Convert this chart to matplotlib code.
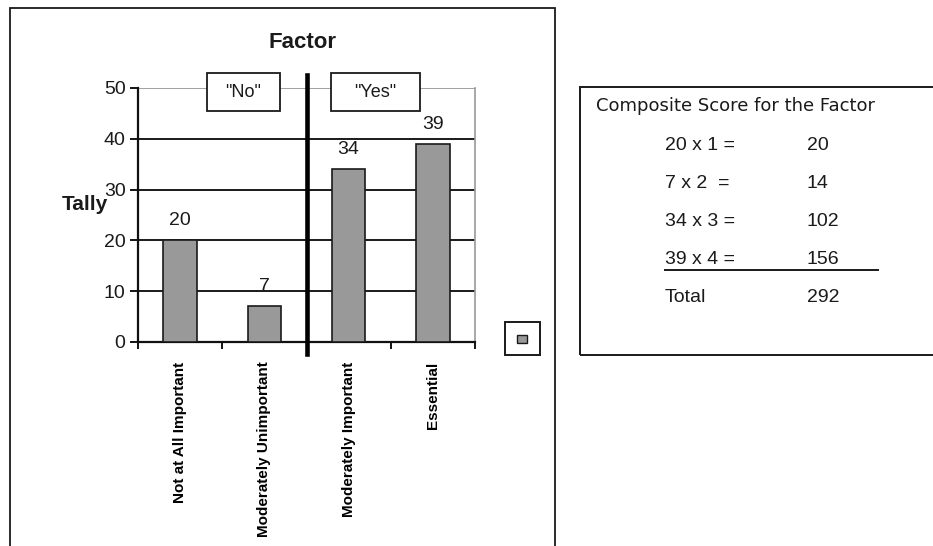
import matplotlib
matplotlib.use("Agg")
import matplotlib.pyplot as plt
from matplotlib.patches import Rectangle
from matplotlib.lines import Line2D

# chart data
categories = ["Not at All Important", "Moderately Unimportant",
              "Moderately Important", "Essential"]
tally = [20, 7, 34, 39]
weights = [1, 2, 3, 4]
scores = [20, 14, 102, 156]
total = 292
yticks = [0, 10, 20, 30, 40, 50]

plt.rcParams['font.family'] = ['Liberation Sans', 'DejaVu Sans']
ink = "#1a1a1a"

fig = plt.figure(figsize=(9.33, 5.46), dpi=100)
ax = fig.add_axes([138/933, 204/546, 337/933, 254/546])

x = list(range(len(categories)))
ax.bar(x, tally, width=0.4, color="#999999", edgecolor=ink, linewidth=1.2, zorder=3)
for xi, v in zip(x, tally):
  ax.text(xi, v + 2.2, str(v), ha='center', va='bottom', fontsize=14, color=ink)

ax.set_xlim(-0.5, 3.5)
ax.set_ylim(0, 50)
ax.set_yticks(yticks)
ax.set_yticklabels([str(t) for t in yticks], fontsize=14, color=ink)
ax.grid(axis='y', color=ink, linewidth=1.4, zorder=1)
ax.get_ygridlines()[-1].set_color("#888888")
ax.get_ygridlines()[-1].set_linewidth(1.1)
ax.set_axisbelow(True)

# category ticks at the boundaries, labels in the middle
ax.set_xticks([-0.5, 0.5, 1.5, 2.5, 3.5], minor=True)
ax.set_xticks(x)
ax.set_xticklabels(categories, rotation=90, va='top', ha='center',
                   fontsize=11, fontweight='bold')
ax.tick_params(axis='x', which='major', length=0, pad=14)
ax.tick_params(axis='x', which='minor', length=5, width=1.3, direction='out')
ax.tick_params(axis='y', length=6, width=1.3, direction='out', pad=3)

for s in ['left', 'bottom']:
  ax.spines[s].set_color("#111111")
  ax.spines[s].set_linewidth(1.6)
ax.spines['top'].set_visible(False)
ax.spines['right'].set_color("#999999")
ax.spines['right'].set_linewidth(1.2)

# divider between "No" and "Yes"
ax.plot([1.5, 1.5], [-2.4, 52.6], color="black", linewidth=3.3, clip_on=False, zorder=5)

for (x0, x1, txt) in [(0.319, 1.185, '"No"'), (1.79, 2.85, '"Yes"')]:
  ax.add_patch(Rectangle((x0, 45.4), x1 - x0, 7.6, facecolor="white", edgecolor=ink,
                         linewidth=1.3, clip_on=False, zorder=6))
  ax.text((x0 + x1) / 2, 49.2, txt, ha='center', va='center', fontsize=13, color=ink, zorder=7)

fig.text(303/933, 1 - 43/546, "Factor", fontsize=16, fontweight='bold', ha='center', va='center', color=ink)
fig.text(62/933, 1 - 204/546, "Tally", fontsize=15, fontweight='bold', ha='left', va='center', color=ink)

# outer chart frame
fig.add_artist(Rectangle((10/933, -0.02), 545/933, 1.02 - 8/546, transform=fig.transFigure,
                         fill=False, edgecolor=ink, linewidth=1.3))

# legend box (no label)
fig.add_artist(Rectangle((505/933, 1 - 355/546), 35/933, 33/546, transform=fig.transFigure,
                         facecolor="white", edgecolor=ink, linewidth=1.4))
fig.add_artist(Rectangle((517/933, 1 - 343/546), 10/933, 8/546, transform=fig.transFigure,
                         facecolor="#999999", edgecolor=ink, linewidth=1.0))

# composite score box
fig.add_artist(Rectangle((580/933, 1 - 355/546), 360/933, 268/546, transform=fig.transFigure,
                         fill=False, edgecolor=ink, linewidth=1.4))
fig.text(596/933, 1 - 106/546, "Composite Score for the Factor", fontsize=13,
         family='DejaVu Sans', va='center', color=ink)
row_y = [146, 184, 222, 259]
left_txt = ["%d x %d =" % (t, w) if t >= 10 else "%d x %d  =" % (t, w) for t, w in zip(tally, weights)]
for yy, lt, sc in zip(row_y, left_txt, scores):
  fig.text(665/933, 1 - yy/546, lt, fontsize=14, va='center', color=ink)
  fig.text(807/933, 1 - yy/546, str(sc), fontsize=14, va='center', color=ink)
fig.add_artist(Line2D([665/933, 878/933], [1 - 270/546, 1 - 270/546], transform=fig.transFigure,
                      color=ink, linewidth=1.4))
fig.text(665/933, 1 - 298/546, "Total", fontsize=14, va='center', color=ink)
fig.text(807/933, 1 - 298/546, str(total), fontsize=14, va='center', color=ink)

fig.savefig("out.png", dpi=100)
